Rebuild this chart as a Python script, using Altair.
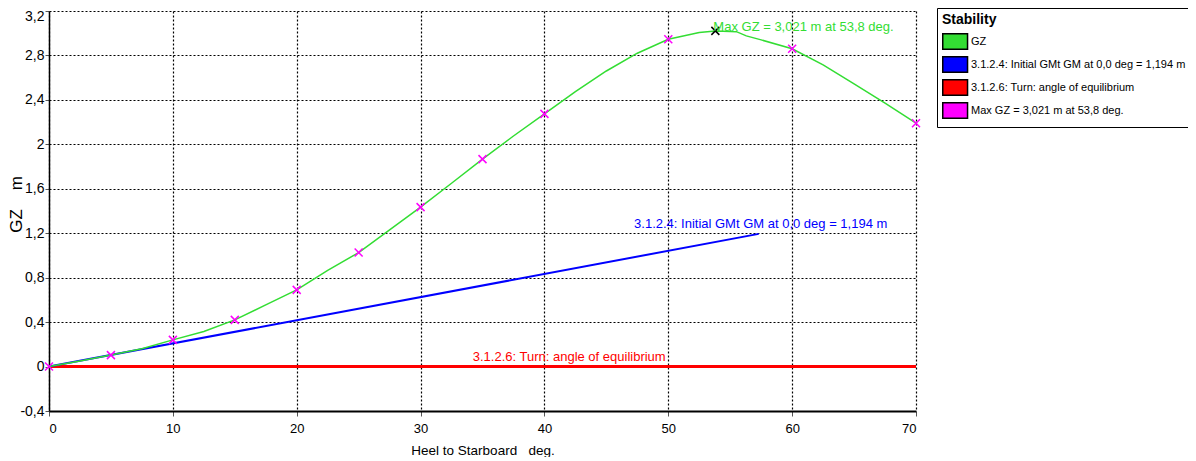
import altair as alt
import pandas as pd

FONT = "Liberation Sans, Arial, sans-serif"

# GZ curve (heel angle in deg, GZ in m)
gz_angle = [0, 2.5, 5, 7.5, 10, 12.5, 15, 17.5, 20, 22.5, 25, 27.5, 30, 32.5, 35,
            37.5, 40, 42.5, 45, 47.5, 50, 52.5, 53.8, 55, 55.5, 56.3, 57.5, 60,
            62.5, 65, 67.5, 70]
gz_value = [0, 0.05, 0.103, 0.16, 0.24, 0.315, 0.42, 0.555, 0.69, 0.865, 1.026,
            1.23, 1.435, 1.65, 1.867, 2.075, 2.274, 2.475, 2.66, 2.82, 2.946, 3.006,
            3.021, 3.015, 3.014, 2.976, 2.94, 2.86, 2.715, 2.545, 2.37, 2.19]

# angles where GZ markers are drawn
marker_angle = [0, 5, 10, 15, 20, 25, 30, 35, 40, 50, 60, 70]

# maximum GZ
max_angle = [53.8]
max_value = [3.021]

# initial GM line
gm_angle = [0, 57.3]
gm_value = [0, 1.194]

# angle of equilibrium line
eq_angle = [0, 70]
eq_value = [0, 0]

series_names = ["GZ",
                "3.1.2.4: Initial GMt GM at 0,0 deg = 1,194 m",
                "3.1.2.6: Turn: angle of equilibrium",
                "Max GZ = 3,021 m at 53,8 deg."]
series_colors = ["#33dd33", "#0000ff", "#ff0000", "#ff00ff"]

x_ticks = [0, 10, 20, 30, 40, 50, 60, 70]
y_ticks = [-0.4, 0, 0.4, 0.8, 1.2, 1.6, 2.0, 2.4, 2.8, 3.2]

# annotations
ann_text = [series_names[3], series_names[1], series_names[2]]
ann_x = [53.8, 57.3, 42.0]
ann_y = [3.021, 1.194, 0.0]
ann_color = ["#33dd33", "#0000ff", "#ff0000"]
ann_align = ["left", "center", "center"]
ann_dx = [-2, 2, 0]
ann_dy = [0, -6, -6]

gz_lookup = dict(zip(gz_angle, gz_value))

df_gz = pd.DataFrame({"angle": gz_angle, "gz": gz_value})
df_gm = pd.DataFrame({"angle": gm_angle, "gz": gm_value})
df_eq = pd.DataFrame({"angle": eq_angle, "gz": eq_value})
df_mk = pd.DataFrame({"angle": marker_angle, "gz": [gz_lookup[a] for a in marker_angle]})
df_max = pd.DataFrame({"angle": max_angle, "gz": max_value})
df_leg = pd.DataFrame({"angle": [0] * len(series_names), "gz": [0] * len(series_names),
                       "series": series_names})

X_PATH = "M-1,-1L1,1M-1,1L1,-1"

x_enc = alt.X("angle:Q",
              scale=alt.Scale(domain=[0, 70], nice=False, zero=False),
              axis=alt.Axis(values=x_ticks, title="Heel to Starboard\u00a0\u00a0\u00a0deg.",
                            grid=True, gridColor="black", gridDash=[2, 2], gridWidth=1.2,
                            domainColor="black", domainWidth=2, tickColor="#555555",
                            tickSize=5, labelFont=FONT, labelFontSize=13, labelColor="black",
                            labelPadding=6, titleFont=FONT, titleFontSize=13.5,
                            titleFontWeight="normal", titleColor="black", titlePadding=8))
y_enc = alt.Y("gz:Q",
              scale=alt.Scale(domain=[-0.4, 3.2], nice=False, zero=False),
              axis=alt.Axis(values=y_ticks, title="GZ\u00a0\u00a0\u00a0\u00a0m",
                            labelExpr="replace(replace(format(datum.value, '.1~f'), '.', ','), '\u2212', '-')",
                            labelOffset={"condition": {"test": "datum.value >= 3.1", "value": 5},
                                         "value": 0},
                            grid=True, gridColor="black", gridDash=[2, 2], gridWidth=1.2,
                            domainColor="black", domainWidth=1.5, tickColor="#555555",
                            tickSize=4, labelFont=FONT, labelFontSize=14, labelColor="black",
                            labelPadding=1, titleFont=FONT, titleFontSize=17,
                            titleFontWeight="normal", titleColor="black",
                            titleX=-28, titleY=193, titleAlign="center",
                            titleBaseline="alphabetic", titleAngle=270))

color_scale = alt.Scale(domain=series_names, range=series_colors)
legend = alt.Legend(title="Stability", orient="none", legendX=888, legendY=-3,
                    padding=5, strokeColor="black", fillColor="white",
                    titleFont=FONT, titleFontSize=14, titleFontWeight="bold",
                    titleColor="black", titlePadding=6, titleAnchor="start",
                    labelFont=FONT, labelFontSize=11, labelColor="black", labelLimit=400,
                    symbolType="M-1,-1H2.2V1H-1Z", symbolSize=240, labelOffset=12,
                    rowPadding=0, symbolStrokeColor="black", symbolStrokeWidth=1.5,
                    symbolOpacity=1)

legend_layer = alt.Chart(df_leg).mark_point(filled=True, opacity=0, size=1).encode(
    x=x_enc, y=y_enc, color=alt.Color("series:N", scale=color_scale, legend=legend))

eq_line = alt.Chart(df_eq).mark_line(strokeWidth=3, color=series_colors[2]).encode(
    x="angle:Q", y="gz:Q")
gm_line = alt.Chart(df_gm).mark_line(strokeWidth=2, color=series_colors[1]).encode(
    x="angle:Q", y="gz:Q")
gz_line = alt.Chart(df_gz).mark_line(strokeWidth=1.5, color=series_colors[0]).encode(
    x="angle:Q", y="gz:Q")
markers = alt.Chart(df_mk).mark_point(shape=X_PATH, size=64, strokeWidth=1.5, filled=False,
                                      opacity=1, color=series_colors[3]).encode(
    x="angle:Q", y="gz:Q")
max_mark = alt.Chart(df_max).mark_point(shape=X_PATH, size=64, strokeWidth=1.5, filled=False,
                                        opacity=1, color="black").encode(x="angle:Q", y="gz:Q")

texts = []
for i in range(len(ann_text)):
    d = pd.DataFrame({"angle": [ann_x[i]], "gz": [ann_y[i]], "label": [ann_text[i]]})
    texts.append(alt.Chart(d).mark_text(font=FONT, fontSize=13, color=ann_color[i],
                                        align=ann_align[i], baseline="alphabetic",
                                        dx=ann_dx[i], dy=ann_dy[i]).encode(
        x="angle:Q", y="gz:Q", text="label:N"))

chart = alt.layer(legend_layer, eq_line, gm_line, gz_line, markers, max_mark, *texts).properties(
    width=867, height=400,
    autosize=alt.AutoSizeParams(type="none"),
    padding={"left": 41, "top": 3, "right": 272, "bottom": 46},
    background="white",
).configure_view(strokeWidth=0)

chart.save("out.html", embed_options={"renderer": "svg", "actions": False})
